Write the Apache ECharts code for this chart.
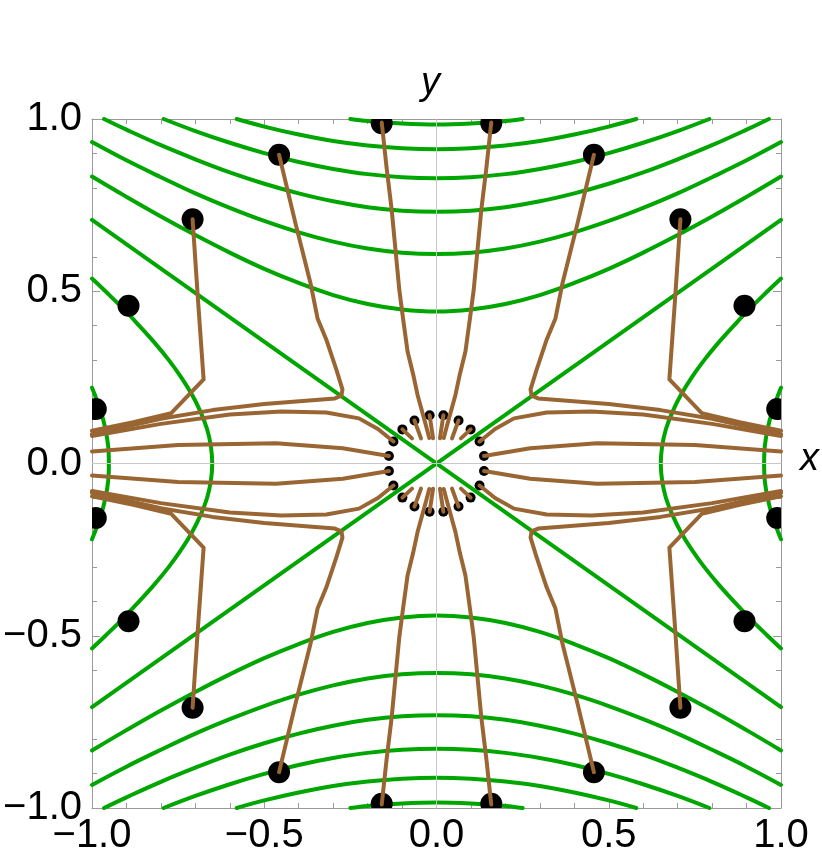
<!DOCTYPE html>
<html>
<head>
<meta charset="utf-8">
<script src="https://cdn.jsdelivr.net/npm/echarts@6/dist/echarts.min.js"></script>
<style>
  html, body { margin: 0; padding: 0; background: #fff; }
  #main { width: 822px; height: 866px; }
</style>
</head>
<body>
<div id="main"></div>
<script>
// frame ticks
const tickValues = [-1.0, -0.5, 0.0, 0.5, 1.0];

// green level curves that open up/down: points for x >= 0, y > 0 (mirrored)
const greenTop1 = [[0, 0.441], [0.1, 0.447], [0.2, 0.463], [0.3, 0.489], [0.4, 0.524], [0.5, 0.565], [0.6, 0.612], [0.7, 0.663], [0.8, 0.717], [0.9, 0.774], [1.0, 0.833]];
const greenTop2 = [[0, 0.608], [0.1, 0.612], [0.2, 0.624], [0.3, 0.644], [0.4, 0.671], [0.5, 0.704], [0.6, 0.742], [0.7, 0.784], [0.8, 0.831], [0.9, 0.880], [1.0, 0.933]];
const greenTop3 = [[0, 0.731], [0.1, 0.734], [0.2, 0.744], [0.3, 0.761], [0.4, 0.784], [0.5, 0.812], [0.6, 0.845], [0.7, 0.883], [0.8, 0.924], [0.9, 0.969], [0.965, 1.0]];
const greenTop4 = [[0, 0.828], [0.1, 0.831], [0.2, 0.840], [0.3, 0.855], [0.4, 0.875], [0.5, 0.901], [0.6, 0.931], [0.7, 0.965], [0.792, 1.0]];
const greenTop5 = [[0, 0.912], [0.1, 0.915], [0.2, 0.923], [0.3, 0.936], [0.4, 0.955], [0.5, 0.978], [0.58, 1.0]];
const greenTop6 = [[0, 0.984], [0.1, 0.987], [0.2, 0.994], [0.25, 1.0]];

// green level curves that open left/right: points for y >= 0, x > 0 (mirrored)
const greenSide1 = [[0.651, 0], [0.655, 0.05], [0.666, 0.1], [0.685, 0.15], [0.710, 0.2], [0.741, 0.25], [0.777, 0.3], [0.818, 0.35], [0.863, 0.4], [0.910, 0.45], [0.961, 0.5], [1.0, 0.537]];
const greenSide2 = [[0.951, 0], [0.953, 0.05], [0.961, 0.1], [0.974, 0.15], [0.992, 0.2], [1.0, 0.22]];

// the two straight lines through the origin
const greenCross = [[-1, -0.707], [1, 0.707]];

// brown lines, upper right quadrant (mirrored to the others)
const brown1 = [[0.159, 0.99], [0.145, 0.86], [0.13, 0.736], [0.108, 0.504], [0.097, 0.42], [0.084, 0.325], [0.068, 0.26], [0.055, 0.199], [0.031, 0.112], [0.021, 0.074]];
const brown2 = [[0.457, 0.896], [0.41, 0.70], [0.365, 0.52], [0.345, 0.42], [0.32, 0.36], [0.29, 0.27], [0.273, 0.215], [0.276, 0.197], [0.295, 0.189], [0.37, 0.183], [0.5, 0.173], [0.65, 0.155], [0.8, 0.13], [1.0, 0.085]];
const brown3 = [[0.708, 0.709], [0.692, 0.47], [0.676, 0.244], [0.77, 0.146], [0.88, 0.12], [1.0, 0.095]];
const brown4 = [[0.125, 0.064], [0.17, 0.1], [0.225, 0.131], [0.32, 0.148], [0.45, 0.151], [0.6, 0.142], [0.8, 0.115], [1.0, 0.08]];
const brown5 = [[0.138, 0.022], [0.272, 0.044], [0.466, 0.059], [0.75, 0.054], [1.0, 0.035]];
const stub1 = [[0.099, 0.099], [0.071, 0.073]];
const stub2 = [[0.064, 0.125], [0.045, 0.073]];
const stub3 = [[0.02, 0.14], [0.01, 0.073]];

// dots, upper right quadrant
const bigDots = [[0.159, 0.988], [0.457, 0.896], [0.708, 0.709], [0.894, 0.458], [0.989, 0.158]];
const smallDots = [[0.138, 0.022], [0.125, 0.064], [0.099, 0.099], [0.064, 0.125], [0.02, 0.14]];

const GREEN = '#00a600';
const BROWN = '#996633';

function flip(pts, sx, sy) {
  return pts.map(p => [sx * p[0], sy * p[1]]);
}
// join a half curve with its mirror image
function wholeTop(q) {
  return flip(q.slice(1).reverse(), -1, 1).concat(q);
}
function wholeSide(q) {
  return flip(q.slice(1).reverse(), 1, -1).concat(q);
}
const quads = [[1, 1], [-1, 1], [1, -1], [-1, -1]];

const series = [];
function addLine(data, color, width, z, smooth) {
  series.push({
    type: 'line',
    data: data,
    symbol: 'none',
    smooth: smooth || false,
    clip: true,
    silent: true,
    z: z,
    lineStyle: { color: color, width: width, cap: 'round', join: 'round' }
  });
}

[greenTop1, greenTop2, greenTop3, greenTop4, greenTop5, greenTop6].forEach(q => {
  addLine(wholeTop(q), GREEN, 4, 3, 0.4);
  addLine(flip(wholeTop(q), 1, -1), GREEN, 4, 3, 0.4);
});
[greenSide1, greenSide2].forEach(q => {
  addLine(wholeSide(q), GREEN, 4, 3, 0.4);
  addLine(flip(wholeSide(q), -1, 1), GREEN, 4, 3, 0.4);
});
addLine(greenCross, GREEN, 4, 3);
addLine(flip(greenCross, 1, -1), GREEN, 4, 3);

// dots go under the brown lines
function dotSeries(pts, r) {
  let all = [];
  quads.forEach(s => { all = all.concat(flip(pts, s[0], s[1])); });
  return {
    type: 'custom',
    data: all,
    clip: true,
    silent: true,
    z: 4,
    renderItem: function (params, api) {
      const c = api.coord([api.value(0), api.value(1)]);
      return { type: 'circle', shape: { cx: c[0], cy: c[1], r: r }, style: { fill: '#000' } };
    }
  };
}
series.push(dotSeries(bigDots, 11));
series.push(dotSeries(smallDots, 5));

[brown1, brown2, brown3, brown4, brown5, stub1, stub2, stub3].forEach(q => {
  quads.forEach(s => addLine(flip(q, s[0], s[1]), BROWN, 4, 5));
});

// thin zero axes
series.push({
  type: 'line',
  data: [],
  silent: true,
  z: 1,
  markLine: {
    silent: true,
    symbol: 'none',
    label: { show: false },
    lineStyle: { color: '#c8c8c8', width: 1, type: 'solid' },
    data: [{ xAxis: 0 }, { yAxis: 0 }]
  }
});

function fmt(v) {
  const s = Math.abs(v).toFixed(1);
  return v < 0 ? '\u2212' + s : s;
}

const labelFont = { fontFamily: 'Liberation Sans', fontSize: 40, color: '#000' };
function frameAxis(pos, showLabel) {
  return {
    type: 'value',
    position: pos,
    min: -1,
    max: 1,
    interval: 0.5,
    axisLine: { onZero: false, lineStyle: { color: '#9a9a9a', width: 1 } },
    axisTick: { inside: true, length: 8, lineStyle: { color: '#9a9a9a' } },
    minorTick: { show: true, splitNumber: 5, length: 5, lineStyle: { color: '#9a9a9a' } },
    splitLine: { show: false },
    axisLabel: Object.assign({
      show: showLabel,
      margin: pos === 'left' ? 10 : 8,
      formatter: fmt,
      customValues: tickValues
    }, labelFont)
  };
}

const chart = echarts.init(document.getElementById('main'));
chart.setOption({
  animation: false,
  backgroundColor: '#fff',
  grid: { left: 92, right: 41, top: 119, bottom: 58, containLabel: false, outerBoundsMode: 'none' },
  xAxis: [frameAxis('bottom', true), frameAxis('top', false)],
  yAxis: [frameAxis('left', true), frameAxis('right', false)],
  graphic: [
    { type: 'text', left: 800, top: 440, style: { text: 'x', fontFamily: 'Liberation Sans', fontStyle: 'italic', fontSize: 38, fill: '#000' } },
    { type: 'text', left: 421, top: 64, style: { text: 'y', fontFamily: 'Liberation Sans', fontStyle: 'italic', fontSize: 38, fill: '#000' } }
  ],
  series: series
});
</script>
</body>
</html>
